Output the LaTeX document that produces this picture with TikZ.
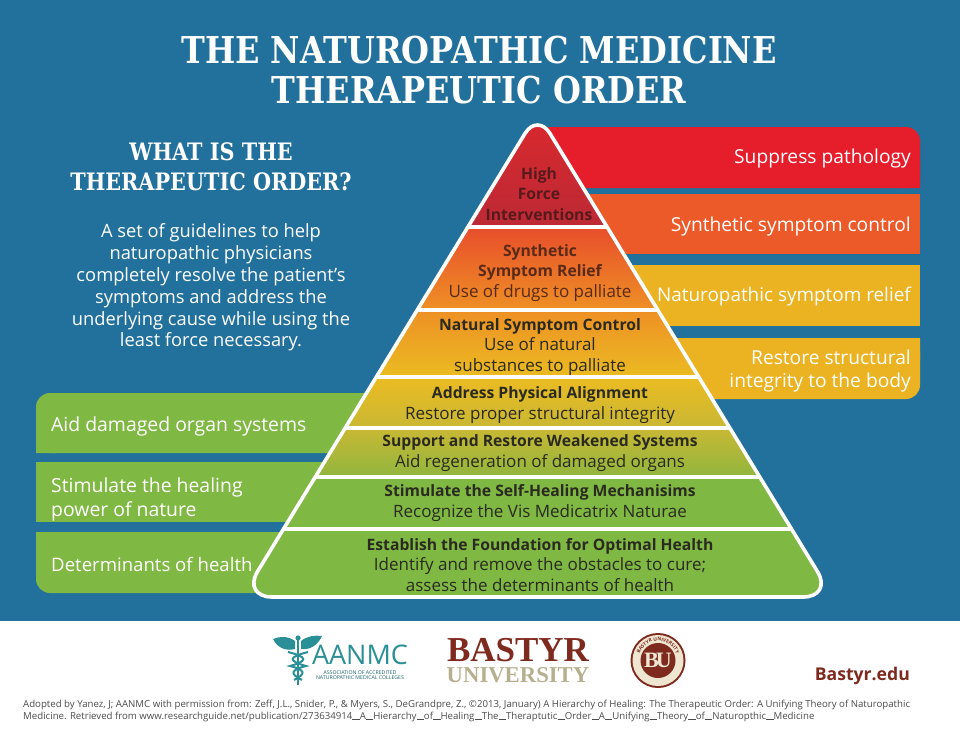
\documentclass[tikz,border=0pt]{standalone}
\usepackage{fontspec}
\usetikzlibrary{decorations.text,calc}
\setmainfont{Open Sans}
\newfontfamily\titlefont{Liberation Serif}
\newfontfamily\slabfont[FakeStretch=0.865]{DejaVu Serif}
\definecolor{bgblue}{HTML}{22709C}
\definecolor{tabred}{HTML}{E61E2B}
\definecolor{taborange}{HTML}{EC5A2A}
\definecolor{tabyellow}{HTML}{EBB322}
\definecolor{tabgreen}{HTML}{7FB843}
\definecolor{tealogo}{HTML}{2A8F96}
\definecolor{bastyrred}{HTML}{7E2A1E}
\definecolor{bastyrtan}{HTML}{B7B08F}
\definecolor{sealcream}{HTML}{EFE6D2}
\definecolor{inktext}{HTML}{2A2A20}
\definecolor{inkred}{HTML}{561A1C}
\definecolor{inkorange}{HTML}{5A2A18}
\definecolor{pyrT}{HTML}{DB282D}
\definecolor{pyrU}{HTML}{BC2A35}
\definecolor{pyrA}{HTML}{E84E2B}
\definecolor{pyrB}{HTML}{EE9025}
\definecolor{pyrC}{HTML}{EBBB22}
\definecolor{pyrD}{HTML}{C9B834}
\definecolor{pyrE}{HTML}{90B63E}
\newcommand{\pyr}{(525,133.5) .. controls (531.9,122.2) and (543.1,122.2) .. (550,133.5) -- (817.4,571.4) .. controls (826,585.5) and (819.5,597) .. (803,597) -- (272,597) .. controls (255.5,597) and (249,585.5) .. (257.6,571.4) -- cycle}
\newcommand{\us}{\rule{7.4pt}{0.45pt}}
\tikzset{
  x=1pt,y=-1pt,
  tabtext/.style={text=white,font=\fontsize{19.2}{24}\selectfont,align=right,anchor=east,inner sep=0pt},
  tabltext/.style={text=white,font=\fontsize{19.4}{24}\selectfont,align=left,anchor=west,inner sep=0pt},
  pyrtext/.style={text=inktext,font=\fontsize{17}{20.5}\selectfont,align=center,inner sep=0pt},
  sep/.style={white,line width=3.4pt},
}
\newcommand{\hd}[1]{{\fontsize{15.7}{20.5}\selectfont\bfseries #1}}
\begin{document}
\begin{tikzpicture}
\useasboundingbox (0,0) rectangle (960,741);
\fill[bgblue] (0,0) rectangle (960,741);
\fill[white] (0,621) rectangle (960,741);
% title
\node[text=white,font=\slabfont\bfseries\fontsize{37}{40}\selectfont,align=center,inner sep=0pt] (title) at (479,70) {THE NATUROPATHIC MEDICINE\\THERAPEUTIC ORDER};
\node[text=white,font=\slabfont\bfseries\fontsize{24}{30}\selectfont,align=center,inner sep=0pt] (what) at (211,167) {WHAT IS THE\\THERAPEUTIC ORDER?};
\node[text=white,font=\fontsize{18.3}{21.8}\selectfont,align=center,inner sep=0pt] (desc) at (211,287.5) {A set of guidelines to help\\naturopathic physicians\\completely resolve the patient's\\symptoms and address the\\underlying cause while using the\\least force necessary.};
% right tabs
\fill[tabred,rounded corners=14pt] (540,127) -- (920,127) -- (920,188) -- (540,188) -- cycle;
\fill[tabred] (540,127) rectangle (560,188) (900,160) rectangle (920,188);
\fill[taborange] (540,194) rectangle (920,254);
\fill[tabyellow] (600,265) rectangle (920,326);
\fill[tabyellow,rounded corners=14pt] (640,338) -- (920,338) -- (920,399) -- (640,399) -- cycle;
\fill[tabyellow] (640,338) rectangle (660,399) (900,338) rectangle (920,360);
\node[tabtext] (r1) at (911,159) {Suppress pathology};
\node[tabtext] (r2) at (911,227) {Synthetic symptom control};
\node[tabtext,font=\fontsize{18.9}{24}\selectfont] (r3) at (911,297) {Naturopathic symptom relief};
\node[tabtext,font=\fontsize{19.2}{23.5}\selectfont] (r4) at (911,371) {Restore structural\\integrity to the body};
% left tabs
\fill[tabgreen,rounded corners=14pt] (36,393) -- (400,393) -- (400,453) -- (36,453) -- cycle;
\fill[tabgreen] (380,393) rectangle (400,453) (36,425) rectangle (56,453);
\fill[tabgreen] (36,462) rectangle (340,522);
\fill[tabgreen,rounded corners=14pt] (36,532) -- (300,532) -- (300,593) -- (36,593) -- cycle;
\fill[tabgreen] (280,532) rectangle (300,593) (36,532) rectangle (56,560);
\node[tabltext] (l1) at (51,426) {Aid damaged organ systems};
\node[tabltext] (l2) at (51,499) {Stimulate the healing\\power of nature};
\node[tabltext,font=\fontsize{18.6}{24}\selectfont] (l3) at (51,564) {Determinants of health};
% pyramid
\begin{scope}
\clip \pyr;
\shade[top color=pyrT,bottom color=pyrU] (200,110) rectangle (880,227);
\shade[top color=pyrA,bottom color=pyrB] (200,227) rectangle (880,310);
\shade[top color=pyrB,bottom color=pyrC] (200,310) rectangle (880,377);
\shade[top color=pyrC,bottom color=pyrD] (200,377) rectangle (880,428);
\shade[top color=pyrD,bottom color=pyrE] (200,428) rectangle (880,477);
\fill[tabgreen] (200,477) rectangle (880,600);
\draw[sep] (200,227) -- (880,227);
\draw[sep] (200,310) -- (880,310);
\draw[sep] (200,377) -- (880,377);
\draw[sep] (200,428) -- (880,428);
\draw[sep] (200,477) -- (880,477);
\draw[sep] (200,529) -- (880,529);
\end{scope}
\draw[white,line width=3.6pt] \pyr;
\node[pyrtext,text=inkred] (p1) at (539,194) {\hd{High}\\\hd{Force}\\\hd{Interventions}};
\node[pyrtext,text=inkorange] (p2) at (540,273) {\hd{Synthetic}\\\hd{Symptom Relief}\\Use of drugs to palliate};
\node[pyrtext] (p3) at (540,347) {\hd{Natural Symptom Control}\\Use of natural\\substances to palliate};
\node[pyrtext] (p4) at (540,405) {\hd{Address Physical Alignment}\\Restore proper structural integrity};
\node[pyrtext] (p5) at (540,453) {\hd{Support and Restore Weakened Systems}\\Aid regeneration of damaged organs};
\node[pyrtext] (p6) at (540,503) {\hd{Stimulate the Self-Healing Mechanisims}\\Recognize the Vis Medicatrix Naturae};
\node[pyrtext] (p7) at (540,565) {\hd{Establish the Foundation for Optimal Health}\\Identify and remove the obstacles to cure;\\assess the determinants of health};
% AANMC logo
\fill[tealogo] (295,641) .. controls (288,636) and (280,636) .. (273,639) .. controls (278,649) and (287,651) .. (295,649) -- cycle;
\fill[tealogo] (301,641) .. controls (307,636) and (315,635) .. (322,636) .. controls (317,647) and (308,650) .. (301,649) -- cycle;
\draw[tealogo,line width=2.4pt] (298,636) -- (298,685);
\fill[tealogo] (298,638) circle (2.6);
\draw[tealogo,line width=2pt] (288,652) .. controls (308,657) and (308,661) .. (290,666) .. controls (306,670) and (306,674) .. (294,680);
\draw[tealogo,line width=2pt] (308,652) .. controls (288,657) and (288,661) .. (306,666) .. controls (290,670) and (290,674) .. (302,680);
\node[text=tealogo,font=\fontsize{27}{27}\selectfont,inner sep=0pt] (aanmc) at (360,655) {AANMC};
\node[text=tealogo!70!black,font=\fontsize{5.2}{4.8}\selectfont,align=center,inner sep=0pt] (aanmcsub) at (360,675.5) {ASSOCIATION OF ACCREDITED\\NATUROPATHIC MEDICAL COLLEGES};
% Bastyr
\node[text=bastyrred,font=\titlefont\bfseries\fontsize{35}{35}\selectfont,inner sep=0pt] (bastyr) at (518,650) {BASTYR};
\node[text=bastyrtan,font=\titlefont\bfseries\fontsize{22.7}{24}\selectfont,inner sep=0pt] (univ) at (518,675) {UNIVERSITY};
% seal
\coordinate (sealc) at (658,660.5);
\fill[bastyrred] (sealc) circle (27.5);
\fill[sealcream] (sealc) circle (25.5);
\fill[bastyrred] (sealc) circle (17.5);
\node[text=sealcream,font=\titlefont\bfseries\fontsize{22}{22}\selectfont,inner sep=0pt] (seal) at (sealc) {B\kern-3pt U};
\path[postaction={decorate,decoration={text along path,text align=center,text={|\fontsize{4.8}{4.8}\selectfont\bfseries\color{bastyrred}|BASTYR UNIVERSITY}}}] (638.5,660.5) arc (180:360:19.5 and 19.5);
\node[text=bastyrred,font=\bfseries\fontsize{17.6}{18}\selectfont,anchor=east,inner sep=0pt] (web) at (910,676) {Bastyr.edu};
% footnote
\node[text=black!70,font=\fontsize{9.66}{12}\selectfont,align=left,anchor=north west,inner sep=0pt] (foot) at (23,699.5) {Adopted by Yanez, J; AANMC with permission from: Zeff, J.L., Snider, P., \& Myers, S., DeGrandpre, Z., ©2013, January) A Hierarchy of Healing: The Therapeutic Order: A Unifying Theory of Naturopathic\\Medicine. Retrieved from www.researchguide.net/publication/273634914\us A\us Hierarchy\us of\us Healing\us The\us Theraptutic\us Order\us A\us Unifying\us Theory\us of\us Naturopthic\us Medicine};
\end{tikzpicture}
\end{document}
